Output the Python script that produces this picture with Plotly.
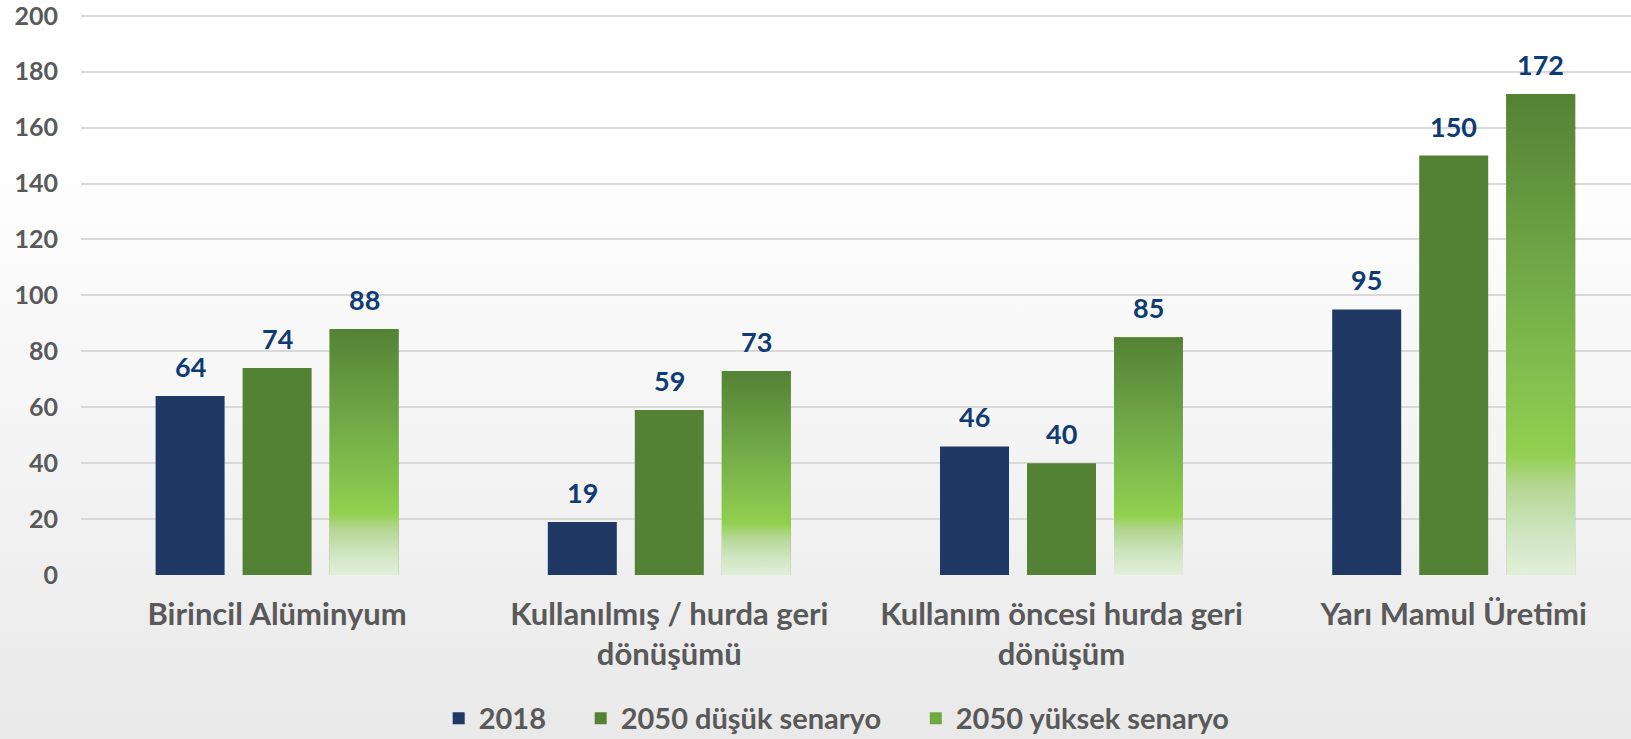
import base64
import plotly.graph_objects as go

categories = ["Birincil Alüminyum", "Kullanılmış / hurda geri<br>dönüşümü",
              "Kullanım öncesi hurda geri<br>dönüşüm", "Yarı Mamul Üretimi"]
series_names = ["2018", "2050 düşük senaryo", "2050 yüksek senaryo"]
v2018 = [64, 19, 46, 95]
vlow = [74, 59, 40, 150]
vhigh = [88, 73, 85, 172]
y_ticks = [0, 20, 40, 60, 80, 100, 120, 140, 160, 180, 200]

FONT = "Lato"
GRAY = "#595959"
LABEL = "#0F3B74"
NAVY = "#203864"
GREEN = "#548235"
MIDGREEN = "#6FA843"
GRAD = [[0.0, "#E2EFDA"], [0.1, "#CCE3BB"], [0.19, "#B2D68E"],
        [0.25, "#92D050"], [0.55, "#76B14A"], [1.0, "#548235"]]

W, H = 1631, 739
ML, MR, MT, MB = 81, 0, 13, 164
Y_TOP = 201
plot_w = W - ML - MR
plot_h = H - MT - MB
cat_px = 392.2
pitch = 87 / cat_px
bw = 69 / cat_px
xpos = list(range(len(categories)))
x_lo = -0.5
x_hi = x_lo + plot_w / cat_px

PAD = "\u00a0" * 4

fig = go.Figure()
fig.add_trace(go.Bar(x=xpos, y=v2018, name=f"<b>{series_names[0]}</b>{PAD}", width=bw,
                     offset=-pitch - bw / 2, marker=dict(color=NAVY, line=dict(width=0))))
fig.add_trace(go.Bar(x=xpos, y=vlow, name=f"<b>{series_names[1]}</b>{PAD}", width=bw,
                     offset=-bw / 2, marker=dict(color=GREEN, line=dict(width=0))))
fig.add_trace(go.Bar(x=xpos, y=vhigh, name=f"<b>{series_names[2]}</b>", width=bw,
                     offset=pitch - bw / 2, marker=dict(color=MIDGREEN, line=dict(width=0))))

# vertical gradient fill drawn over the third series' bars
for i, v in enumerate(vhigh):
    x0 = xpos[i] + pitch - bw / 2
    x1 = x0 + bw
    fig.add_trace(go.Scatter(
        x=[x0, x1, x1, x0, x0], y=[0, 0, v, v, 0], mode="lines",
        line=dict(width=0), fill="toself",
        fillgradient=dict(type="vertical", colorscale=GRAD, start=0, stop=v),
        showlegend=False, hoverinfo="skip"))

ann = []
for k, vals in enumerate([v2018, vlow, vhigh]):
    for i, v in enumerate(vals):
        ann.append(dict(x=xpos[i] + (k - 1) * pitch, y=v, text=f"<b>{v}</b>",
                        showarrow=False, yanchor="bottom", yshift=11,
                        font=dict(family=FONT, size=27, color=LABEL)))

svg = ('<svg xmlns="http://www.w3.org/2000/svg" width="100" height="100" viewBox="0 0 100 100" '
       'preserveAspectRatio="none"><defs><linearGradient id="g" x1="0" y1="0" x2="0" y2="1">'
       '<stop offset="0" stop-color="#ffffff"/><stop offset="0.2" stop-color="#ffffff"/>'
       '<stop offset="1" stop-color="#e9e9e9"/></linearGradient></defs>'
       '<rect width="100" height="100" fill="url(#g)"/></svg>')
bg = "data:image/svg+xml;base64," + base64.b64encode(svg.encode()).decode()

fig.update_layout(
    width=W, height=H,
    margin=dict(l=ML, r=MR, t=MT, b=MB),
    paper_bgcolor="white", plot_bgcolor="rgba(0,0,0,0)",
    barmode="overlay",
    font=dict(family=FONT, color=GRAY),
    images=[dict(source=bg, xref="paper", yref="paper",
                 x=-ML / plot_w, y=1 + MT / plot_h, sizex=W / plot_w, sizey=H / plot_h,
                 xanchor="left", yanchor="top", sizing="stretch", layer="below")],
    xaxis=dict(range=[x_lo, x_hi], tickvals=xpos,
               ticktext=[f"<b>{c}</b>" for c in categories],
               tickfont=dict(family=FONT, size=31, color=GRAY),
               showgrid=False, zeroline=False, showline=False, ticks="",
               ticklabelstandoff=18, ticklabeloverflow="allow"),
    yaxis=dict(range=[0, Y_TOP], tickvals=y_ticks,
               ticktext=[f"<b>{t}</b>" for t in y_ticks],
               tickfont=dict(family=FONT, size=25, color=GRAY),
               showgrid=True, gridcolor="#D9D9D9", gridwidth=2,
               zeroline=False, showline=False, ticks="", ticklabelstandoff=22,
               ticklabeloverflow="allow"),
    legend=dict(orientation="h", xref="container", yref="container",
                x=0.513, xanchor="center", y=0.028, yanchor="middle",
                font=dict(family=FONT, size=29, color=GRAY),
                bgcolor="rgba(0,0,0,0)"),
    annotations=ann,
    showlegend=True,
    hovermode=False,
)

fig.write_html("out.html", config={"displayModeBar": False},
               post_script="document.body.style.margin='0px';document.body.style.padding='0px';")
